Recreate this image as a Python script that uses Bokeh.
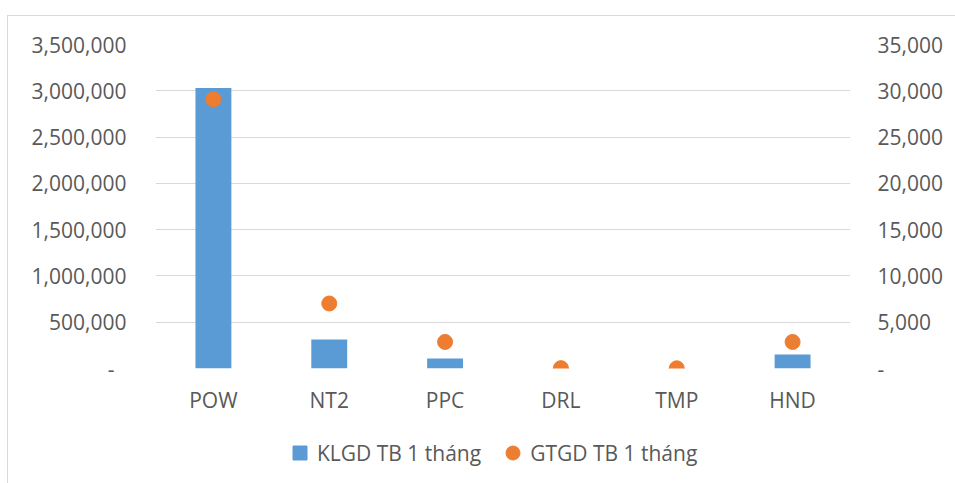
import numpy as np
from bokeh.plotting import figure
from bokeh.layouts import column
from bokeh.models import (FactorRange, Range1d, LinearAxis, NumeralTickFormatter,
                          Legend, LegendItem, FixedTicker, ColumnDataSource)
from bokeh.embed import file_html
from bokeh.resources import INLINE

categories = ["POW", "NT2", "PPC", "DRL", "TMP", "HND"]
klgd = [3030000, 313000, 108000, 0, 0, 151000]
gtgd = [29100, 7020, 2870, 40, 20, 2870]
series_names = ["KLGD TB 1 tháng", "GTGD TB 1 tháng"]

left_ticks = [0, 500000, 1000000, 1500000, 2000000, 2500000, 3000000, 3500000]
right_ticks = [0, 5000, 10000, 15000, 20000, 25000, 30000, 35000]

FONT = "Open Sans"
TXT = "#595959"
FS = "21px"
BLUE = "#5b9bd5"
ORANGE = "#ed7d31"

src = ColumnDataSource(dict(cat=categories, klgd=klgd, gtgd=gtgd))

p = figure(x_range=FactorRange(*categories, range_padding=0),
           y_range=Range1d(0, 3500000),
           width=947, height=400, output_backend="svg", toolbar_location=None,
           min_border_left=147, min_border_right=105, min_border_top=28,
           min_border_bottom=48)
p.outline_line_color = None
p.extra_y_ranges = {"right": Range1d(0, 35000)}

p.vbar(x="cat", top="klgd", width=0.31, source=src,
       fill_color=BLUE, line_color=None)
p.scatter(x="cat", y="gtgd", size=15, source=src, color=ORANGE,
          y_range_name="right")

# left axis
ya = p.yaxis[0]
ya.ticker = FixedTicker(ticks=left_ticks)
ya.formatter = NumeralTickFormatter(format="0,0")
ya.major_label_overrides = {0: "-\u2007"}
ya.axis_line_color = None
ya.major_tick_line_color = None
ya.minor_tick_line_color = None
ya.major_label_standoff = 23
ya.major_label_text_font = FONT
ya.major_label_text_font_size = FS
ya.major_label_text_color = TXT

ra = LinearAxis(y_range_name="right", ticker=FixedTicker(ticks=right_ticks),
                formatter=NumeralTickFormatter(format="0,0"))
ra.major_label_overrides = {0: "-"}
ra.axis_line_color = None
ra.major_tick_line_color = None
ra.minor_tick_line_color = None
ra.major_label_standoff = 21
ra.major_label_text_font = FONT
ra.major_label_text_font_size = FS
ra.major_label_text_color = TXT
p.add_layout(ra, "right")

xa = p.xaxis[0]
xa.axis_line_color = None
xa.major_tick_line_color = None
xa.major_label_standoff = 11
xa.major_label_text_font = FONT
xa.major_label_text_font_size = FS
xa.major_label_text_color = TXT

p.xgrid.grid_line_color = None
p.ygrid.grid_line_color = "#d9d9d9"
p.ygrid.ticker = FixedTicker(ticks=left_ticks)

# legend strip (proxy renderers with no visible points)
lg = figure(width=947, height=67, output_backend="svg", toolbar_location=None,
            x_range=Range1d(0, 1), y_range=Range1d(0, 1),
            x_axis_location=None, y_axis_location=None,
            min_border=0)
lg.outline_line_color = None
lg.grid.visible = False
proxy = ColumnDataSource(dict(x=np.array([np.nan]), y=np.array([np.nan])))
r1 = lg.scatter(x="x", y="y", source=proxy, marker="square", color=BLUE)
r2 = lg.scatter(x="x", y="y", source=proxy, marker="circle", color=ORANGE)
legend = Legend(items=[LegendItem(label=series_names[0], renderers=[r1]),
                       LegendItem(label=series_names[1], renderers=[r2])],
                orientation="horizontal", location=(127, 13),
                label_text_font=FONT, label_text_font_size=FS,
                label_text_color=TXT, glyph_width=35, glyph_height=35,
                spacing=14, label_standoff=0, border_line_color=None,
                background_fill_alpha=0, padding=0, margin=0)
lg.add_layout(legend)

layout = column(p, lg, spacing=0)
layout.styles = {"margin-top": "15px", "margin-left": "7px",
                 "border-top": "1px solid #d9d9d9",
                 "border-left": "1px solid #d9d9d9"}

open("out.html", "w").write(file_html(layout, INLINE))
